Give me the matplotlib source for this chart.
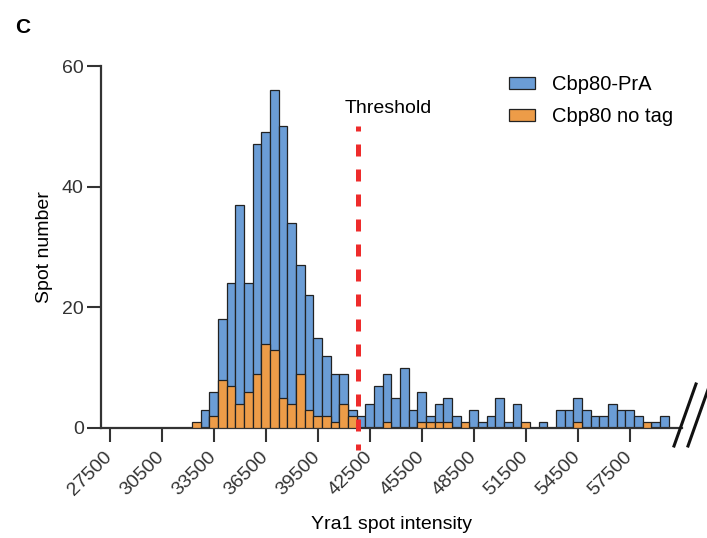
import matplotlib
matplotlib.use("Agg")
import matplotlib.pyplot as plt
import matplotlib.transforms as mtransforms
from matplotlib.patches import Patch
from matplotlib.lines import Line2D

plt.rcParams['font.family'] = ['Liberation Sans', 'DejaVu Sans']

# ---- data ----
bin_centers = [32500, 33000, 33500, 34000, 34500, 35000, 35500, 36000, 36500, 37000,
               37500, 38000, 38500, 39000, 39500, 40000, 40500, 41000, 41500, 42000,
               42500, 43000, 43500, 44000, 44500, 45000, 45500, 46000, 46500, 47000,
               47500, 48000, 48500, 49000, 49500, 50000, 50500, 51000, 51500, 52000,
               52500, 53000, 53500, 54000, 54500, 55000, 55500, 56000, 56500, 57000,
               57500, 58000, 58500, 59000, 59500]
cbp80_pra = [0, 3, 6, 18, 24, 37, 24, 47, 49, 56,
             50, 34, 27, 22, 15, 12, 9, 9, 3, 2,
             4, 7, 9, 5, 10, 3, 6, 2, 4, 5,
             2, 0, 3, 1, 2, 5, 1, 4, 0, 0,
             1, 0, 3, 3, 5, 3, 2, 2, 4, 3,
             3, 2, 0, 1, 2]
cbp80_notag = [1, 0, 2, 8, 7, 4, 6, 9, 14, 13,
               5, 4, 9, 3, 2, 2, 1, 4, 2, 0,
               0, 0, 1, 0, 0, 0, 1, 1, 1, 1,
               0, 1, 0, 0, 0, 0, 0, 0, 1, 0,
               0, 0, 0, 0, 1, 0, 0, 0, 0, 0,
               0, 0, 1, 0, 0]
bin_width = 500
threshold = 41800
xticks = [27500, 30500, 33500, 36500, 39500, 42500, 45500, 48500, 51500, 54500, 57500]
yticks = [0, 20, 40, 60]
series_labels = ["Cbp80-PrA", "Cbp80 no tag"]

blue = "#6B9DD6"
orange = "#ED9C48"
edge = "#222222"
axcol = "#333333"

W, H = 707, 538
fig = plt.figure(figsize=(W / 100, H / 100), dpi=100)
ax = fig.add_axes([101 / W, 1 - 428 / H, 580.7 / W, (428 - 66) / H])

ax.bar(bin_centers, cbp80_pra, width=bin_width, color=blue, edgecolor=edge, linewidth=0.9, zorder=2)
ax.bar(bin_centers, cbp80_notag, width=bin_width, color=orange, edgecolor=edge, linewidth=0.9, zorder=3)

ax.set_xlim(27000, 60500)
ax.set_ylim(0, 60)
ax.set_xticks(xticks)
ax.set_xticklabels([str(t) for t in xticks], rotation=45, ha='right', va='center',
                   rotation_mode='anchor', fontsize=14, color=axcol)
shift = mtransforms.ScaledTranslation(4 / 100, 0, fig.dpi_scale_trans)
for lab in ax.get_xticklabels():
    lab.set_transform(lab.get_transform() + shift)
ax.set_yticks(yticks)
ax.set_yticklabels([str(t) for t in yticks], fontsize=14, color=axcol)
ax.tick_params(axis='both', length=10, width=1.5, color=axcol, direction='out')
ax.tick_params(axis='x', pad=9)
ax.tick_params(axis='y', pad=2.5)

for s in ['top', 'right']:
    ax.spines[s].set_visible(False)
for s in ['left', 'bottom']:
    ax.spines[s].set_linewidth(1.6)
    ax.spines[s].set_color(axcol)

ax.set_xlabel("Yra1 spot intensity", fontsize=14, labelpad=12)
ax.set_ylabel("Spot number", fontsize=14, labelpad=6)

# threshold
ax.plot([threshold, threshold], [50, -3.6], color="#EE2B2B", linewidth=3.6,
        linestyle=(1.4, (2.4, 2.6)), clip_on=False, zorder=5,
        dash_capstyle='butt')
ax.text(41050, 52.2, "Threshold", fontsize=14, ha='left', va='baseline')

# legend
handles = [Patch(facecolor=blue, edgecolor=edge, linewidth=0.9),
           Patch(facecolor=orange, edgecolor=edge, linewidth=0.9)]
fig.legend(handles, series_labels, loc='upper left', bbox_to_anchor=(509 / W, 1 - 75 / H),
           frameon=False, fontsize=14.5, handlelength=1.29, handleheight=0.6,
           handletextpad=0.85, labelspacing=0.65, borderpad=0, borderaxespad=0)

# axis break marks
for x0 in [674, 688]:
    fig.add_artist(Line2D([x0 / W, (x0 + 22) / W], [1 - 446 / H, 1 - 384 / H],
                          transform=fig.transFigure, color='#111111', linewidth=2.2))

fig.text(23 / W, 1 - 28 / H, "C", fontsize=15, fontweight='bold', va='center', ha='center')

fig.savefig("out.png", dpi=100)
